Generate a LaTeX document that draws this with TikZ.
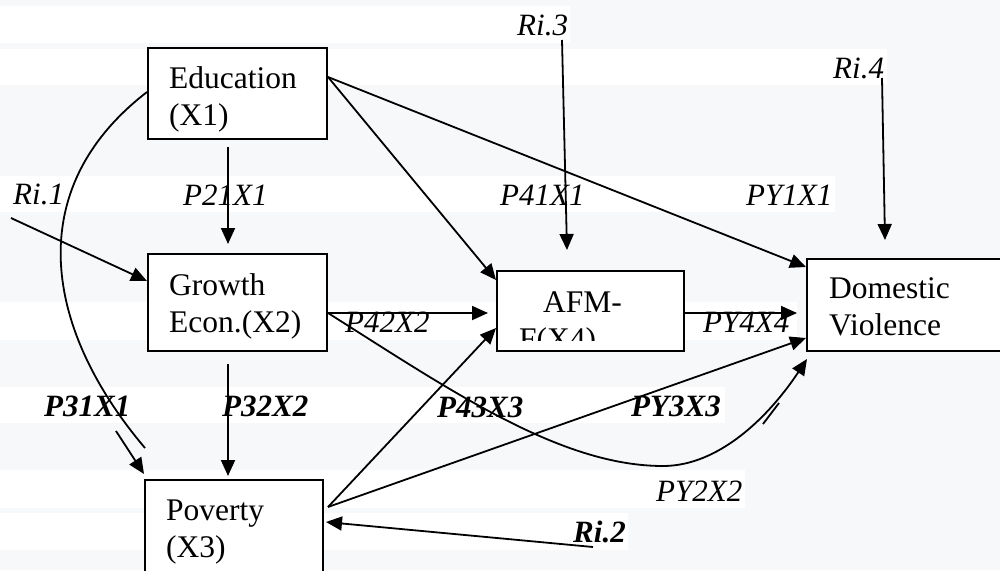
\documentclass[tikz,border=0pt]{standalone}
\usepackage{fontspec}
\setmainfont{Liberation Serif}
\usetikzlibrary{arrows.meta,calc}
\definecolor{bandgray}{HTML}{F7F8FA}
\begin{document}
\begin{tikzpicture}[x=1pt,y=-1pt,
 conn/.style={line width=1.8pt,-{Triangle[length=16pt,width=14pt]}},
 plain/.style={line width=1.8pt},
 box/.style={draw,line width=2pt,fill=white,inner sep=0pt},
 txt/.style={anchor=base west,inner sep=0pt,font=\fontsize{31.5}{37}\selectfont},
 lbl/.style={anchor=base west,inner sep=0pt,font=\fontsize{31}{37}\selectfont\itshape},
 blbl/.style={anchor=base west,inner sep=0pt,font=\fontsize{31}{37}\selectfont\bfseries\itshape},
 band/.style={fill=white,draw=none}]
\useasboundingbox (0,0) rectangle (1000,570);
\clip (0,0) rectangle (1000,570);
% background bands
\fill[bandgray] (0,0) rectangle (1000,570);
\fill[band] (0,6) rectangle (570,43);
\fill[band] (0,49) rectangle (887,85);
\fill[band] (0,176) rectangle (835,212);
\fill[band] (0,302) rectangle (797,340);
\fill[band] (0,387) rectangle (725,423);
\fill[band] (0,470) rectangle (745,508);
\fill[band] (0,513) rectangle (628,550);

% boxes
\node[box,minimum width=179pt,minimum height=91pt] (edu) at (237.5,93.5) {};
\node[box,minimum width=179pt,minimum height=97pt] (grow) at (237.5,302.5) {};
\node[box,minimum width=178pt,minimum height=120pt] (pov) at (234,540) {};
\node[box,minimum width=187pt,minimum height=80pt] (afm) at (590.5,311) {};
\node[box,minimum width=203pt,minimum height=92pt] (dom) at (908.5,305) {};

% box texts
\node[txt] (eduA) at (169,88) {Education};
\node[txt] (eduB) at (169,125) {(X1)};
\node[txt] (growA) at (169,295) {Growth};
\node[txt] (growB) at (169,332) {Econ.(X2)};
\node[txt] (povA) at (166,520) {Poverty};
\node[txt] (povB) at (166,557) {(X3)};
\node[txt] (domA) at (829,298) {Domestic};
\node[txt] (domB) at (829,335) {Violence};
\begin{scope}
\clip (499,273) rectangle (682,340);
\node[txt] (afmA) at (543,312) {AFM-};
\node[txt] (afmB) at (519,349) {F(X4)};
\end{scope}

% labels
\node[lbl] (lr1) at (13,204) {Ri.1};
\node[lbl] (l21) at (183,205) {P21X1};
\node[lbl] (l41) at (500,205) {P41X1};
\node[lbl] (ly1) at (746,205) {PY1X1};
\node[lbl] (lr3) at (517,35) {Ri.3};
\node[lbl] (lr4) at (833,78) {Ri.4};
\node[lbl] (l42) at (345,332) {P42X2};
\node[lbl] (ly4) at (703,332) {PY4X4};
\node[blbl] (l31) at (44,416) {P31X1};
\node[blbl] (l32) at (222,416) {P32X2};
\node[blbl] (l43) at (437,417) {P43X3};
\node[blbl] (ly3) at (631,416) {PY3X3};
\node[lbl] (ly2) at (656,501) {PY2X2};
\node[blbl] (lr2) at (573,542) {Ri.2};

% free ends
\coordinate (r1) at (11,218);
\coordinate (r3) at (562,40);
\coordinate (r4) at (882,78);
\coordinate (r2) at (593,547);
\coordinate (c1) at (145,448);

% connectors
\draw[conn] ($(edu.south)+(-9.5,7)$) -- ($(grow.north)+(-9.5,-9)$);
\draw[conn] (r1) -- ($(grow.north west)+(0,28)$);
\draw[conn] ($(edu.north east)+(0,30)$) -- ($(afm.north west)+(0,10)$);
\draw[conn] ($(edu.north east)+(0,30)$) -- ($(dom.north west)+(0,9)$);
\draw[conn] (r3) -- ($(afm.north)+(-23.5,-20)$);
\draw[conn] (r4) -- ($(dom.north)+(-23.5,-18)$);
\draw[plain] ($(edu.north west)+(0,45)$) .. controls (20,190) and (45,330) .. (c1);
\draw[conn] ($(pov.north west)+(-28,-48)$) -- ($(pov.north west)+(0,-5)$);
\draw[conn] ($(grow.south)+(-9.5,12)$) -- ($(pov.north)+(-6,-3)$);
\draw[conn] ($(grow.east)+(0,10.5)$) -- ($(afm.west)+(-8,2)$);
\draw[conn] ($(grow.east)+(0,10.5)$) .. controls (450,390) and (560,466) .. (663,466)
   .. controls (720,466) and (770,415) .. ($(dom.south west)+(1,7)$);
\draw[plain] (763,424) -- (779,403);
\draw[conn] ($(pov.north east)+(4,28)$) -- ($(afm.south west)+(0,-24)$);
\draw[conn] ($(pov.north east)+(4,28)$) -- ($(dom.south west)+(0,-14)$);
\draw[conn] (r2) -- ($(pov.north east)+(2,43)$);
\draw[conn] ($(afm.east)+(0,2)$) -- ($(dom.west)+(-9,8)$);
\end{tikzpicture}
\end{document}
